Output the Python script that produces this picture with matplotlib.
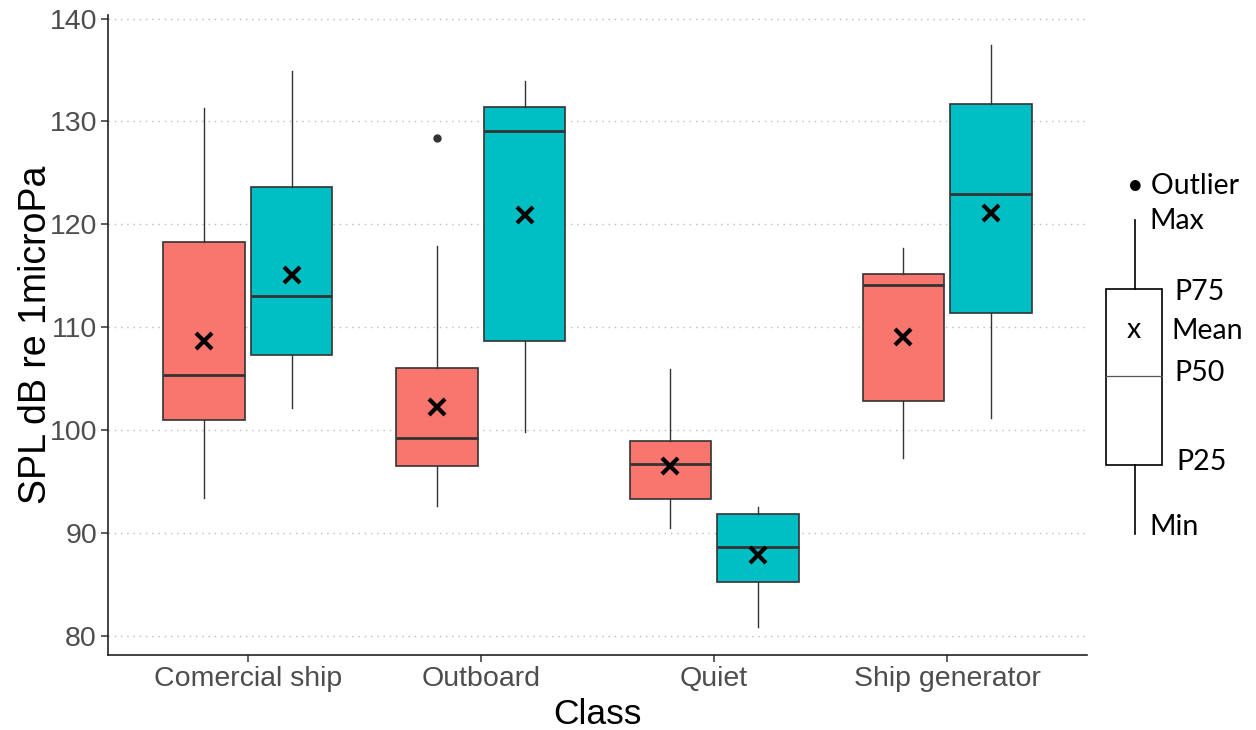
import matplotlib
matplotlib.use("Agg")
import matplotlib.pyplot as plt
from matplotlib.patches import Rectangle
from matplotlib.lines import Line2D

# ---------------- data ----------------
categories = ["Comercial ship", "Outboard", "Quiet", "Ship generator"]
groups = ["A", "B"]
group_colors = ["#F8766D", "#00BFC4"]

# per group: values for each category
whislo = {"A": [93.4, 92.6, 90.5, 97.3], "B": [102.2, 99.8, 80.9, 101.2]}
q1     = {"A": [101.0, 96.5, 93.3, 102.8], "B": [107.3, 108.7, 85.2, 111.4]}
med    = {"A": [105.4, 99.2, 96.7, 114.1], "B": [113.0, 129.1, 88.6, 123.0]}
q3     = {"A": [118.3, 106.0, 98.9, 115.2], "B": [123.6, 131.4, 91.9, 131.7]}
whishi = {"A": [131.3, 117.9, 105.9, 117.7], "B": [134.9, 133.9, 92.5, 137.4]}
means  = {"A": [108.7, 102.3, 96.5, 109.1], "B": [115.1, 120.9, 87.9, 121.1]}
fliers = {"A": [[], [128.4], [], []], "B": [[], [], [], []]}

yticks = [80, 90, 100, 110, 120, 130, 140]

# ---------------- figure ----------------
plt.rcParams['font.family'] = ['Liberation Sans', 'DejaVu Sans']
fig = plt.figure(figsize=(12.56, 7.30), dpi=100)
W, H = 1256, 730
ax_left, ax_right, ax_top, ax_bot = 108, 1087, 15, 655
ax = fig.add_axes([ax_left / W, 1 - ax_bot / H, (ax_right - ax_left) / W, (ax_bot - ax_top) / H])

offsets = [-0.1875, 0.1875]
box_w = 0.35
for gi, g in enumerate(groups):
    stats = []
    for ci in range(len(categories)):
        stats.append(dict(whislo=whislo[g][ci], q1=q1[g][ci], med=med[g][ci],
                          q3=q3[g][ci], whishi=whishi[g][ci], mean=means[g][ci],
                          fliers=fliers[g][ci]))
    pos = [ci + 1 + offsets[gi] for ci in range(len(categories))]
    ax.bxp(stats, positions=pos, widths=box_w, patch_artist=True,
           showmeans=True, showcaps=False, showfliers=True,
           boxprops=dict(facecolor=group_colors[gi], edgecolor="#333333", linewidth=1.2),
           medianprops=dict(color="#333333", linewidth=2.0, solid_capstyle="butt"),
           whiskerprops=dict(color="#333333", linewidth=1.0),
           meanprops=dict(marker="x", markeredgecolor="black", markersize=11,
                          markeredgewidth=3, linestyle="none"),
           flierprops=dict(marker="o", markerfacecolor="#333333", markeredgecolor="#333333",
                           markersize=5),
           zorder=3)

ax.set_xlim(0.4, 4.6)
ax.set_ylim(78.15, 140.35)
ax.set_xticks(range(1, len(categories) + 1))
ax.set_xticklabels(categories)
ax.set_yticks(yticks)
ax.yaxis.grid(True, linestyle=(0, (1, 3.5)), color="#BBBBBB", linewidth=1.0)
ax.xaxis.grid(False)
ax.set_axisbelow(True)
for s in ["top", "right"]:
    ax.spines[s].set_visible(False)
for s in ["left", "bottom"]:
    ax.spines[s].set_color("#222222")
    ax.spines[s].set_linewidth(1.2)
ax.tick_params(axis="both", labelsize=20.5, labelcolor="#4D4D4D", color="#333333",
               length=5, width=1.1)
ax.tick_params(axis="x", pad=3)
ax.tick_params(axis="y", pad=3)
ax.set_xlabel("Class", fontsize=25.5, color="black", labelpad=4)
ax.set_ylabel("SPL dB re 1microPa", fontsize=27, color="black", labelpad=-3)

# ---------------- schematic key (pixel coordinates) ----------------
ov = fig.add_axes([0, 0, 1, 1], zorder=10)
ov.set_xlim(0, W)
ov.set_ylim(H, 0)
ov.axis("off")
ov.patch.set_alpha(0)
key_font = dict(family=["Lato", "DejaVu Sans"], fontsize=20.5, color="black", va="center")
ov.add_line(Line2D([1135, 1135], [220, 289], color="black", linewidth=1.2))
ov.add_line(Line2D([1135, 1135], [465, 534], color="black", linewidth=1.2))
ov.add_patch(Rectangle((1106, 289), 56, 176, facecolor="white", edgecolor="black", linewidth=1.2))
ov.add_line(Line2D([1106, 1162], [376, 376], color="#555555", linewidth=0.9))
ov.text(1134, 330, "x", ha="center", **key_font)
ov.text(1127, 186, "\u2022 Outlier", ha="left", **key_font)
ov.text(1149, 221, "Max", ha="left", **key_font)
ov.text(1174, 292, "P75", ha="left", **key_font)
ov.text(1171, 331, "Mean", ha="left", **key_font)
ov.text(1174, 373, "P50", ha="left", **key_font)
ov.text(1176, 462, "P25", ha="left", **key_font)
ov.text(1149, 527, "Min", ha="left", **key_font)

fig.savefig("out.png", dpi=100)
